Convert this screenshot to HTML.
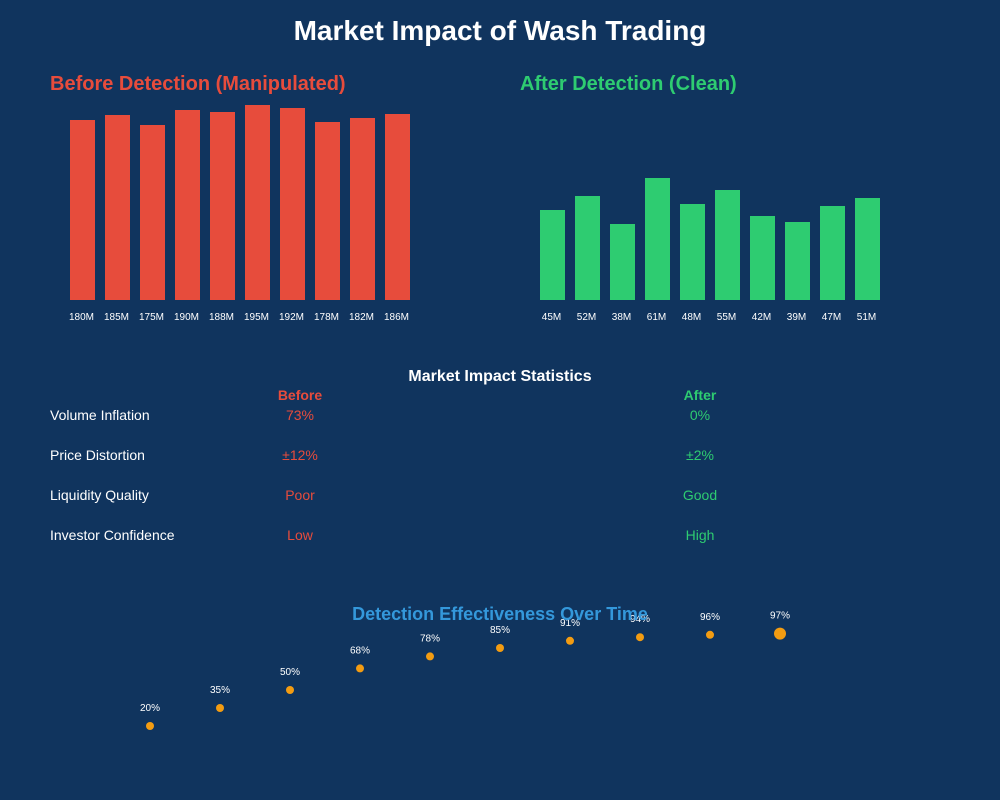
<!DOCTYPE html>
<html><head><meta charset="utf-8"><style>
html,body{margin:0;padding:0;background:#10345e;}
svg{display:block;font-family:"Liberation Sans",Arial,sans-serif;}
</style></head><body>
<svg id="c" width="1000" height="800" viewBox="0 0 1000 800">
<rect x="0" y="0" width="1000" height="800" fill="#10345e"/>
<text x="500" y="40" text-anchor="middle" font-size="28" font-weight="bold" fill="#fff">Market Impact of Wash Trading</text>
<text x="50" y="90" font-size="20" font-weight="bold" fill="#e74c3c">Before Detection (Manipulated)</text>
<text x="520" y="90" font-size="20" font-weight="bold" fill="#2ecc71">After Detection (Clean)</text>
<g id="before"></g>
<g id="after"></g>
<text x="500" y="381" text-anchor="middle" font-size="16" font-weight="bold" fill="#fff">Market Impact Statistics</text>
<text x="300" y="400" text-anchor="middle" font-size="14" font-weight="bold" fill="#e74c3c">Before</text>
<text x="700" y="400" text-anchor="middle" font-size="14" font-weight="bold" fill="#2ecc71">After</text>
<g id="stats"></g>
<g id="dots"></g>
<text x="500" y="620" text-anchor="middle" font-size="18" font-weight="bold" fill="#3498db">Detection Effectiveness Over Time</text>
</svg>
<script>
const beforeVals=[180,185,175,190,188,195,192,178,182,186];
const afterVals=[45,52,38,61,48,55,42,39,47,51];
const statLabels=["Volume Inflation","Price Distortion","Liquidity Quality","Investor Confidence"];
const statBefore=["73%","±12%","Poor","Low"];
const statAfter=["0%","±2%","Good","High"];
const effVals=[20,35,50,68,78,85,91,94,96,97];
const NS="http://www.w3.org/2000/svg";
function mk(tag,attrs,parent,txt){const e=document.createElementNS(NS,tag);for(const k in attrs)e.setAttribute(k,attrs[k]);if(txt!==undefined)e.textContent=txt;parent.appendChild(e);return e;}
const base=300;
function drawBars(vals,g,x0,scale,color){
  vals.forEach((v,i)=>{
    const x=x0+35*i,h=v*scale;
    const r=mk('rect',{x:x,y:base-h,width:25,height:h,fill:color},g);
    
    
    const t=mk('text',{x:x+11.5,y:320,'text-anchor':'middle','font-size':10,fill:'#fff'},g,v+'M');
    
    
  });
}
drawBars(beforeVals,document.getElementById('before'),70,1,'#e74c3c');
drawBars(afterVals,document.getElementById('after'),540,2,'#2ecc71');
const sg=document.getElementById('stats');
statLabels.forEach((l,i)=>{
  const y=420+40*i;
  const a=mk('text',{x:50,y:y,'font-size':14,fill:'#fff'},sg,l);
  
  
  const b=mk('text',{x:300,y:y,'text-anchor':'middle','font-size':14,fill:'#e74c3c'},sg,statBefore[i]);
  
  
  const c=mk('text',{x:700,y:y,'text-anchor':'middle','font-size':14,fill:'#2ecc71'},sg,statAfter[i]);
  
  
});
const dg=document.getElementById('dots');
const yE=v=>750-1.2*v;
effVals.forEach((v,i)=>{
  const x=150+70*i,y=yE(v),last=i===effVals.length-1;
  const c=mk('circle',{cx:x,cy:y,r:last?6:4,fill:'#f39c12'},dg);
  
  
  const t=mk('text',{x:x,y:y-15,'text-anchor':'middle','font-size':10,fill:'#fff'},dg,v+'%');
  
  
});
</script>
</body></html>
